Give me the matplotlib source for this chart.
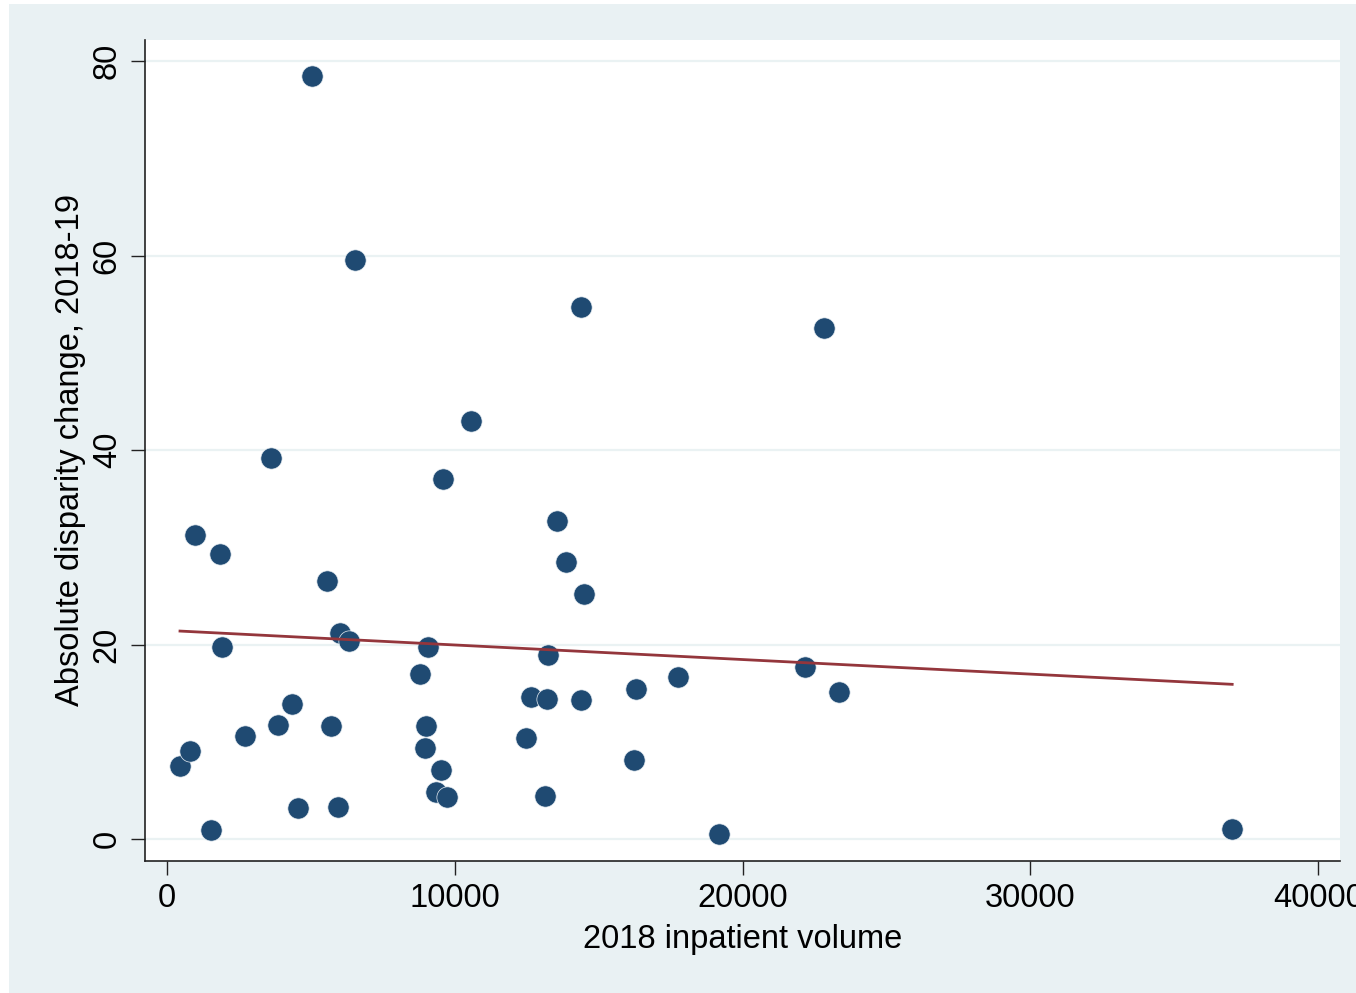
import numpy as np
import matplotlib
matplotlib.use('Agg')
import matplotlib.pyplot as plt
from matplotlib.patches import Rectangle

plt.rcParams['font.family'] = ['Liberation Sans', 'DejaVu Sans']

# 2018 inpatient volume vs absolute disparity change
volume = [452, 800, 974, 1530, 1843, 1913, 2713, 3617, 3860, 4348,
          4557, 5043, 5565, 5704, 5948, 6017, 6330, 6539, 8800, 8974,
          9009, 9078, 9357, 9530, 9600, 9739, 10574, 12487, 12661, 13148,
          13217, 13252, 13565, 13878, 14400, 14400, 14504, 16209, 16278, 17739,
          19165, 22157, 22817, 23339, 37009]
disparity = [7.5, 9.05, 31.3, 0.93, 29.3, 19.75, 10.6, 39.2, 11.7, 13.9,
             3.2, 78.5, 26.6, 11.6, 3.3, 21.2, 20.4, 59.5, 17.0, 9.4,
             11.6, 19.75, 4.9, 7.1, 37.0, 4.3, 43.0, 10.4, 14.6, 4.4,
             14.4, 18.9, 32.7, 28.5, 54.7, 14.3, 25.2, 8.2, 15.4, 16.7,
             0.5, 17.7, 52.6, 15.1, 1.1]

x = np.array(volume, dtype=float)
y = np.array(disparity, dtype=float)

# linear fit
slope, intercept = np.polyfit(x, y, 1)
xs = np.array([x.min(), x.max()])
ys = intercept + slope * xs

W, H = 1356, 993
fig = plt.figure(figsize=(W / 100, H / 100), dpi=100, facecolor='white')
fig.patches.append(Rectangle((9 / W, 0), 1, (H - 4) / H, transform=fig.transFigure,
                             facecolor='#e9f1f3', edgecolor='none', zorder=-10))

ax = fig.add_axes([145 / W, (H - 861) / H, (1340 - 145) / W, (861 - 40) / H])
ax.set_zorder(5)
ax.set_facecolor('white')

ax.scatter(x, y, s=235, color='#1f4a72', edgecolors='#e8eef3', linewidths=0.5, zorder=3)
ax.plot(xs, ys, color='#94363c', lw=2.0, zorder=4)

ax.set_xlim(-764, 40755)
ax.set_ylim(-2.23, 82.16)
ax.set_xticks([0, 10000, 20000, 30000, 40000])
ax.set_yticks([0, 20, 40, 60, 80])
ax.grid(axis='y', color='#eaf2f3', lw=1.6, zorder=1)
ax.set_axisbelow(True)

for s in ['top', 'right']:
    ax.spines[s].set_visible(False)
for s in ['left', 'bottom']:
    ax.spines[s].set_color('#222222')
    ax.spines[s].set_linewidth(1.2)

ax.tick_params(axis='both', length=10, width=1.0, color='#222222', labelsize=23.5, pad=6)
plt.setp(ax.get_yticklabels(), rotation=90, va='center')

ax.set_xlabel('2018 inpatient volume', fontsize=23.5, labelpad=7)
ax.set_ylabel('Absolute disparity change, 2018-19', fontsize=23.5, labelpad=4)

fig.savefig('out.png', dpi=100, facecolor=fig.get_facecolor())
